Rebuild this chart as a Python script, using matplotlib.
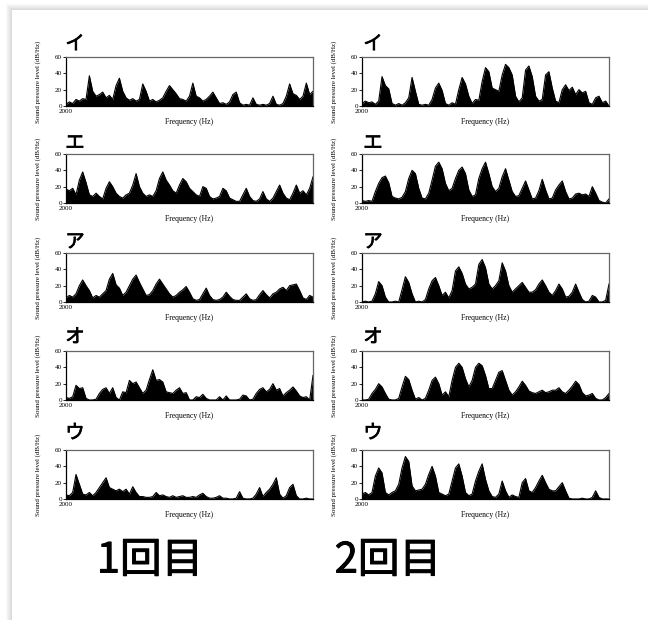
import matplotlib.pyplot as plt
import matplotlib.patheffects as pe
import numpy as np
from matplotlib.patches import Rectangle

plt.rcParams['font.family'] = ['Noto Sans CJK JP', 'DejaVu Sans']

W, H = 648, 620

vowels = ['イ', 'エ', 'ア', 'オ', 'ウ']
sessions = ['1回目', '2回目']
yticks = [0, 20, 40, 60]

# spectrum envelope, dB/Hz, 75 bins from 2000 Hz upward
freqs = np.linspace(2000, 5000, 75)

i_1st = [2, 5, 3, 8, 6, 9, 8, 37, 18, 12, 14, 17, 10, 13, 8, 25, 34, 18, 10, 7,
         9, 6, 8, 27, 18, 6, 8, 5, 7, 10, 18, 25, 20, 15, 9, 8, 6, 12, 28, 12,
         10, 6, 8, 12, 17, 10, 3, 4, 2, 5, 14, 17, 4, 1, 2, 1, 10, 2, 1, 2,
         1, 3, 12, 2, 1, 3, 12, 27, 15, 13, 8, 12, 28, 14, 18]
i_2nd = [3, 6, 4, 5, 2, 6, 36, 25, 21, 3, 1, 3, 1, 4, 10, 35, 18, 2, 1, 2,
         1, 8, 22, 28, 19, 3, 1, 4, 2, 20, 35, 27, 12, 3, 8, 7, 30, 47, 42, 22,
         20, 18, 38, 51, 47, 38, 12, 5, 10, 44, 49, 36, 12, 6, 8, 38, 42, 22, 6, 4,
         20, 26, 19, 23, 14, 20, 16, 18, 4, 2, 10, 12, 4, 6, 0]
e_1st = [17, 15, 18, 10, 28, 38, 25, 10, 8, 12, 8, 5, 18, 26, 20, 12, 8, 6, 10, 12,
         22, 36, 20, 12, 8, 10, 8, 15, 30, 38, 28, 22, 15, 12, 22, 30, 26, 18, 14, 10,
         8, 20, 18, 8, 5, 6, 8, 18, 15, 6, 4, 2, 2, 10, 18, 8, 3, 2, 5, 14,
         5, 2, 6, 14, 22, 12, 6, 4, 12, 22, 12, 15, 10, 18, 32]
e_2nd = [3, 2, 3, 2, 14, 24, 31, 33, 25, 8, 6, 5, 7, 14, 30, 40, 36, 18, 6, 5,
         12, 28, 45, 50, 42, 24, 15, 18, 30, 40, 44, 36, 16, 8, 10, 30, 42, 50, 36, 20,
         14, 18, 32, 42, 28, 14, 8, 9, 18, 27, 16, 5, 6, 15, 29, 16, 5, 6, 16, 22,
         27, 14, 5, 6, 11, 12, 10, 11, 8, 20, 12, 3, 1, 0, 5]
a_1st = [5, 8, 6, 10, 20, 27, 20, 14, 5, 8, 6, 10, 14, 28, 35, 21, 17, 8, 12, 20,
         28, 33, 24, 16, 8, 9, 14, 22, 28, 22, 16, 10, 6, 8, 12, 15, 19, 12, 4, 2,
         3, 10, 17, 8, 3, 2, 3, 6, 12, 7, 3, 2, 2, 6, 10, 4, 2, 3, 9, 14,
         9, 5, 10, 12, 16, 18, 14, 20, 21, 22, 14, 5, 3, 8, 6]
a_2nd = [0, 1, 0, 1, 10, 25, 20, 6, 0, 0, 1, 0, 15, 31, 24, 10, 0, 1, 0, 3,
         16, 26, 30, 20, 8, 12, 5, 14, 38, 43, 35, 22, 16, 18, 22, 46, 52, 42, 22, 16,
         20, 26, 48, 38, 20, 12, 16, 20, 24, 18, 12, 12, 15, 22, 27, 20, 12, 8, 14, 22,
         16, 6, 7, 12, 22, 12, 3, 0, 1, 8, 6, 0, 0, 2, 22]
o_1st = [3, 2, 4, 18, 14, 15, 2, 0, 0, 1, 8, 13, 15, 8, 15, 3, 0, 10, 9, 24,
         20, 22, 15, 8, 12, 25, 37, 24, 25, 22, 10, 9, 8, 12, 15, 8, 9, 0, 0, 4,
         3, 7, 2, 0, 0, 0, 4, 0, 5, 0, 0, 0, 1, 6, 5, 0, 1, 8, 13, 15,
         10, 13, 20, 12, 14, 5, 9, 12, 16, 11, 5, 3, 4, 0, 30]
o_2nd = [0, 0, 1, 8, 13, 20, 16, 8, 1, 0, 0, 2, 16, 29, 25, 12, 1, 3, 0, 2,
         12, 24, 28, 20, 6, 10, 4, 24, 40, 45, 40, 26, 16, 24, 40, 45, 42, 30, 14, 14,
         24, 34, 36, 24, 12, 6, 10, 16, 23, 18, 11, 9, 8, 10, 12, 9, 10, 12, 12, 15,
         10, 8, 12, 17, 23, 19, 9, 5, 6, 8, 2, 0, 0, 3, 8]
u_1st = [5, 4, 8, 30, 18, 6, 5, 8, 4, 8, 14, 20, 26, 14, 12, 10, 12, 9, 12, 6,
         15, 8, 3, 3, 2, 2, 3, 8, 4, 5, 3, 2, 4, 2, 3, 4, 2, 2, 3, 2,
         5, 7, 3, 1, 1, 2, 4, 1, 1, 0, 0, 1, 9, 1, 0, 0, 1, 6, 14, 3,
         8, 12, 18, 26, 6, 1, 4, 14, 18, 4, 0, 0, 1, 0, 0]
u_2nd = [6, 8, 5, 8, 28, 38, 32, 8, 5, 8, 10, 18, 38, 52, 46, 16, 10, 11, 12, 18,
         30, 40, 28, 8, 6, 4, 6, 22, 38, 43, 28, 8, 4, 6, 22, 34, 43, 24, 10, 3,
         2, 6, 22, 10, 2, 5, 3, 2, 20, 25, 10, 8, 14, 22, 29, 20, 12, 10, 10, 15,
         20, 10, 1, 0, 0, 0, 1, 0, 0, 2, 10, 2, 0, 0, 0]

levels = [[i_1st, i_2nd], [e_1st, e_2nd], [a_1st, a_2nd],
          [o_1st, o_2nd], [u_1st, u_2nd]]

# panel placement in pixels
row_tops = [57, 154, 253, 351, 450]
col_lefts = [66, 362]
panel_w, panel_h = 247, 49
kana_y = [44, 143, 242, 337, 433]
kana_x = [75, 373]

fig = plt.figure(figsize=(W / 100, H / 100), dpi=100)

# paper card with a soft shadow on the top-left
for k in range(6, 0, -1):
    fig.patches.append(Rectangle(((12 - k) / W, 0), 1, 1 - (10 - k) / H,
                                 transform=fig.transFigure, color='black',
                                 alpha=0.025, lw=0, zorder=-3))
fig.patches.append(Rectangle((12 / W, 0), 1, 1 - 10 / H, transform=fig.transFigure,
                             color='white', lw=0, zorder=-2))

serif = 'Liberation Serif'
for r, vowel in enumerate(vowels):
    for c in range(2):
        ax = fig.add_axes([col_lefts[c] / W, 1 - (row_tops[r] + panel_h) / H,
                           panel_w / W, panel_h / H])
        lv = levels[r][c]
        ax.fill_between(freqs, 0, lv, color='black', lw=0)
        ax.plot(freqs, lv, color='black', lw=0.8)
        ax.set_xlim(2000, 5000)
        ax.set_ylim(0, 60)
        ax.set_yticks(yticks)
        ax.set_xticks([2000])
        ax.tick_params(axis='y', labelsize=5, length=2, width=0.6, pad=1)
        ax.tick_params(axis='x', labelsize=5, length=0, pad=2)
        for lab in ax.get_xticklabels() + ax.get_yticklabels():
            lab.set_family(serif)
        for side in ['left', 'bottom']:
            ax.spines[side].set_linewidth(0.9)
            ax.spines[side].set_color('black')
        for side in ['top', 'right']:
            ax.spines[side].set_linewidth(0.9)
            ax.spines[side].set_color('#666666')
        ax.set_ylabel('Sound pressure level (dB/Hz)', fontsize=5, family=serif)
        ax.yaxis.set_label_coords(-0.1, 0.5)
        ax.set_xlabel('Frequency (Hz)', fontsize=5.5, family=serif, labelpad=3)

        fig.text(kana_x[c] / W, 1 - kana_y[r] / H, vowel, fontsize=14,
                 ha='center', va='center',
                 path_effects=[pe.withStroke(linewidth=0.5, foreground='black')])

for c, label in enumerate(sessions):
    fig.text([150, 388][c] / W, 1 - 561 / H, label, fontsize=30,
             ha='center', va='center',
             path_effects=[pe.withStroke(linewidth=0.7, foreground='black')])

fig.savefig('out.png', dpi=100)
